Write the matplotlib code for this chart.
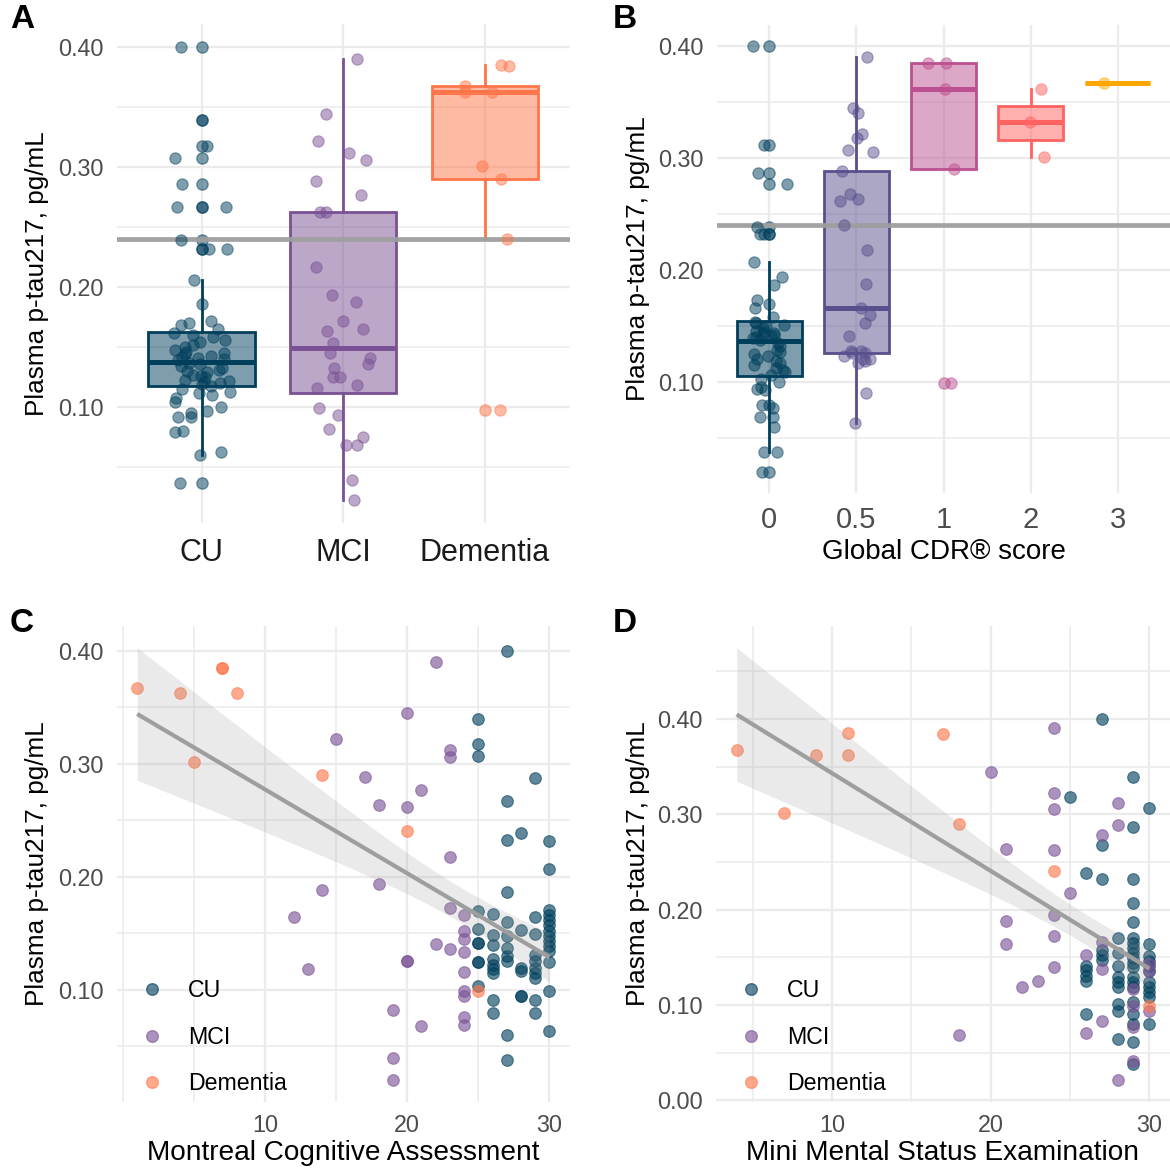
import numpy as np
import matplotlib
matplotlib.use("Agg")
import matplotlib.pyplot as plt
from matplotlib.colors import to_rgba
from matplotlib.lines import Line2D

plt.rcParams['font.family'] = ['Liberation Sans', 'DejaVu Sans']

# ---------------- data ----------------
# Panel A: plasma p-tau217 by diagnostic group
groups_a = ["CU", "MCI", "Dementia"]
ptau_cu = [0.400, 0.339, 0.3175, 0.307, 0.286, 0.267, 0.267, 0.239, 0.232, 0.232,
           0.206, 0.186, 0.172, 0.170, 0.168, 0.165,
           0.118, 0.119, 0.120, 0.121, 0.122, 0.123, 0.125, 0.126, 0.127, 0.129,
           0.130, 0.131, 0.133, 0.134, 0.136, 0.137,
           0.139, 0.140, 0.141, 0.142, 0.143, 0.144, 0.145, 0.146, 0.148, 0.150,
           0.152, 0.154, 0.156, 0.158, 0.160, 0.162,
           0.115, 0.113, 0.112, 0.110, 0.108, 0.104, 0.100, 0.097, 0.095, 0.092,
           0.092, 0.080, 0.079, 0.063, 0.060, 0.037]
ptau_mci = [0.3897, 0.3442, 0.3217, 0.3114, 0.3053, 0.2883, 0.2767, 0.2628, 0.2628,
            0.2167, 0.1933, 0.1878, 0.172, 0.165, 0.1636, 0.153, 0.145, 0.141, 0.136,
            0.133, 0.125, 0.125, 0.1183, 0.116, 0.099, 0.0933, 0.0817, 0.0753, 0.0683,
            0.0683, 0.0392, 0.0225]
ptau_dem = [0.385, 0.384, 0.367, 0.362, 0.362, 0.301, 0.290, 0.240, 0.098]

# Panel B: plasma p-tau217 by global CDR score
cdr_labels = ["0", "0.5", "1", "2", "3"]
ptau_cdr0 = [0.400, 0.312, 0.287, 0.277, 0.239, 0.232, 0.232, 0.207, 0.194, 0.187,
             0.173, 0.170, 0.166, 0.158,
             0.138, 0.139, 0.140, 0.141, 0.142, 0.143, 0.144, 0.145, 0.146, 0.148,
             0.150, 0.151, 0.153, 0.154,
             0.106, 0.109, 0.111, 0.113, 0.115, 0.117, 0.119, 0.121, 0.123, 0.125,
             0.127, 0.129, 0.132, 0.135,
             0.103, 0.100, 0.096, 0.094, 0.093, 0.080, 0.080, 0.077, 0.069, 0.069,
             0.060, 0.038, 0.038, 0.020]
ptau_cdr05 = [0.390, 0.345, 0.340, 0.322, 0.318, 0.307, 0.306, 0.289, 0.268, 0.264,
              0.262, 0.240, 0.218, 0.188, 0.166, 0.160, 0.153, 0.141, 0.128, 0.128,
              0.1262, 0.1256, 0.123, 0.121, 0.1203, 0.1185, 0.1173, 0.0905, 0.0637]
ptau_cdr1 = [0.385, 0.385, 0.362, 0.290, 0.099]
ptau_cdr2 = [0.362, 0.332, 0.301]
ptau_cdr3 = [0.367]

# Panel C: MoCA score vs p-tau217
moca_cu = [27, 25, 25, 25, 29, 27, 28, 27, 30, 30, 27, 25, 26, 27, 28, 29, 29, 30, 30, 30,
           30, 30, 30, 30, 30, 30, 25, 25, 25, 26, 26, 27, 27, 27, 27, 25, 25, 26, 26, 26,
           26, 28, 28, 29, 29, 29, 29, 29, 30, 25, 28, 28, 30, 26, 26, 29, 29, 27, 30, 27]
ptau_moca_cu = [0.400, 0.3398, 0.3177, 0.3071, 0.2873, 0.2675, 0.2386, 0.2327, 0.2321, 0.2068,
                0.1865, 0.1699, 0.167, 0.160, 0.1531, 0.164, 0.1496, 0.1708, 0.1664, 0.162,
                0.1575, 0.1522, 0.1478, 0.1434, 0.139, 0.1345, 0.154, 0.1413, 0.1413, 0.1487,
                0.1398, 0.1472, 0.137, 0.1295, 0.125, 0.1245, 0.1245, 0.1272, 0.1222, 0.1183,
                0.1148, 0.1192, 0.1162, 0.131, 0.125, 0.1192, 0.1148, 0.1104, 0.1242, 0.1035,
                0.0947, 0.0947, 0.0991, 0.0905, 0.0794, 0.0905, 0.0797, 0.0599, 0.0637, 0.0374]
moca_mci = [22, 20, 15, 23, 23, 17, 21, 18, 20, 23, 14, 18, 12, 23, 22, 23, 13, 20, 20, 19,
            21, 19, 19, 24, 24, 24, 24, 24, 24, 24, 24, 24]
ptau_moca_mci = [0.3906, 0.3449, 0.3221, 0.3124, 0.3059, 0.2888, 0.277, 0.2637, 0.2622, 0.2171,
                 0.1882, 0.1938, 0.164, 0.1723, 0.1404, 0.136, 0.1183, 0.1257, 0.1257, 0.0817,
                 0.0682, 0.0396, 0.0197, 0.1658, 0.1522, 0.1451, 0.1333, 0.1156, 0.099, 0.094,
                 0.0755, 0.069]
moca_dem = [1, 4, 7, 7, 8, 5, 14, 20, 25]
ptau_moca_dem = [0.367, 0.3626, 0.385, 0.385, 0.3626, 0.3015, 0.2903, 0.2404, 0.0985]

# Panel D: MMSE score vs p-tau217
mmse_cu = [27, 29, 25, 30, 29, 27, 26, 27, 29, 29, 29, 28, 29, 29, 29, 29, 29, 29, 29, 30,
           30, 30, 30, 30, 30, 30, 30, 30, 28, 28, 28, 28, 28, 27, 27, 27, 26, 26, 26, 26,
           29, 29, 29, 29, 29, 29, 29, 29, 28, 28, 28, 26, 30]
ptau_mmse_cu = [0.4003, 0.3394, 0.3178, 0.307, 0.2869, 0.2674, 0.2385, 0.2326, 0.2322, 0.2071,
                0.187, 0.170, 0.1706, 0.1654, 0.1602, 0.155, 0.1497, 0.1445, 0.1393, 0.1637,
                0.1515, 0.1463, 0.141, 0.1358, 0.1236, 0.1184, 0.1132, 0.1079, 0.155, 0.141,
                0.1289, 0.1236, 0.1184, 0.1574, 0.1522, 0.147, 0.141, 0.1365, 0.1306, 0.1254,
                0.1289, 0.1236, 0.1184, 0.1027, 0.0905, 0.080, 0.0609, 0.0383, 0.101, 0.094,
                0.0644, 0.0905, 0.080]
mmse_mci = [24, 20, 24, 24, 28, 28, 27, 21, 24, 25, 24, 21, 24, 21, 24, 22, 23, 27, 26, 27,
            18, 26, 27, 28, 29, 29, 29, 29, 30, 30, 30]
ptau_mmse_mci = [0.390, 0.3447, 0.322, 0.3057, 0.3117, 0.289, 0.2778, 0.2639, 0.2622, 0.2176,
                 0.194, 0.188, 0.1723, 0.1643, 0.1403, 0.119, 0.1253, 0.166, 0.1525, 0.1375,
                 0.0686, 0.0703, 0.0829, 0.0209, 0.1167, 0.0992, 0.0766, 0.0411, 0.1428, 0.1358,
                 0.094]
mmse_dem = [4, 9, 11, 11, 7, 17, 18, 24, 30]
ptau_mmse_dem = [0.3669, 0.3621, 0.3854, 0.3621, 0.3011, 0.3843, 0.290, 0.2402, 0.0992]

threshold = 0.24

# ---------------- styling ----------------
C_CU, C_MCI, C_DEM = "#003f5c", "#7a5195", "#ff764a"
CDR_COLORS = ["#003f5c", "#58508d", "#bc5090", "#ff6361", "#ffa600"]
GRID = "#ebebeb"
TICK_GREY = "#4d4d4d"
LINE_GREY = "#9e9e9e"
PT_BOX = 66      # marker area for jittered points
PT_SCAT = 70     # marker area for scatter points

W, H = 1170, 1171
fig = plt.figure(figsize=(W / 100, H / 100), dpi=100)
rng = np.random.default_rng(11)


def px_axes(x0, y0, x1, y1):
    return fig.add_axes([x0 / W, 1 - y1 / H, (x1 - x0) / W, (y1 - y0) / H])


def expand(lo, hi, mult=0.05):
    r = hi - lo
    return lo - mult * r, hi + mult * r


def base_style(ax, yticks, ylim):
    for s in ax.spines.values():
        s.set_visible(False)
    ax.set_ylim(*ylim)
    ax.set_yticks(yticks)
    ax.set_yticklabels([f"{t:.2f}" for t in yticks])
    minors = [t + 0.05 for t in np.arange(-0.1, 0.5, 0.1)]
    ax.set_yticks([m for m in minors if ylim[0] <= m <= ylim[1]], minor=True)
    ax.tick_params(which="both", length=0)
    ax.tick_params(axis="y", labelsize=16.8, labelcolor=TICK_GREY, pad=9.5)
    ax.grid(which="major", color=GRID, lw=1.6)
    ax.grid(which="minor", axis="y", color=GRID, lw=1.1)
    ax.set_axisbelow(True)
    ax.set_ylabel("Plasma p-tau217, pg/mL", fontsize=18.8, color="black")
    ax.yaxis.label.set_verticalalignment("center")


def box_with_jitter(ax, values, pos, color, alpha_pts=0.5):
    vals = np.asarray(values)
    fc = to_rgba(color, 0.5)
    ax.boxplot([vals], positions=[pos], widths=0.75, patch_artist=True,
               showcaps=False, whis=1.5, manage_ticks=False,
               boxprops=dict(facecolor=fc, edgecolor=color, linewidth=2.0),
               whiskerprops=dict(color=color, linewidth=2.0),
               medianprops=dict(color=color, linewidth=3.6, solid_capstyle="butt"),
               flierprops=dict(marker="o", markersize=np.sqrt(PT_BOX),
                               markerfacecolor=to_rgba(color, alpha_pts),
                               markeredgecolor=to_rgba(color, alpha_pts)),
               zorder=2)
    jit = rng.uniform(-0.2, 0.2, len(vals))
    ax.scatter(pos + jit, vals, s=PT_BOX, facecolor=to_rgba(color, alpha_pts),
               edgecolor=to_rgba(color, alpha_pts), linewidth=0.8, zorder=4)


def lm_band(x, y, grid):
    x = np.asarray(x, float)
    y = np.asarray(y, float)
    n = len(x)
    xm = x.mean()
    sxx = np.sum((x - xm) ** 2)
    b1 = np.sum((x - xm) * (y - y.mean())) / sxx
    b0 = y.mean() - b1 * xm
    s = np.sqrt(np.sum((y - (b0 + b1 * x)) ** 2) / (n - 2))
    se = s * np.sqrt(1 / n + (grid - xm) ** 2 / sxx)
    df = n - 2
    z = 1.959964
    t = z + (z ** 3 + z) / (4 * df) + (5 * z ** 5 + 16 * z ** 3 + 3 * z) / (96 * df ** 2)
    fit = b0 + b1 * grid
    return fit, fit - t * se, fit + t * se


# ---------------- Panel A ----------------
axA = px_axes(116.6, 24, 570, 523)
ya = ptau_cu + ptau_mci + ptau_dem
base_style(axA, [0.1, 0.2, 0.3, 0.4], expand(min(ya), max(ya)))
axA.set_xlim(-0.6, 2.6)
axA.set_xticks(range(3))
axA.set_xticklabels(groups_a)
axA.tick_params(axis="x", labelsize=22, labelcolor="#1a1a1a", pad=11)
axA.axhline(threshold, color=LINE_GREY, lw=3.4, alpha=0.95, zorder=3)
for i, (vals, col) in enumerate(zip([ptau_cu, ptau_mci, ptau_dem], [C_CU, C_MCI, C_DEM])):
    box_with_jitter(axA, vals, i, col)
axA.yaxis.set_label_coords(-0.176, 0.5)

# ---------------- Panel B ----------------
axB = px_axes(717, 25, 1170, 493)
cdr_sets = [ptau_cdr0, ptau_cdr05, ptau_cdr1, ptau_cdr2, ptau_cdr3]
yb = sum(cdr_sets, [])
base_style(axB, [0.1, 0.2, 0.3, 0.4], expand(min(yb), max(yb)))
axB.set_xlim(-0.6, 4.6)
axB.set_xticks(range(5))
axB.set_xticklabels(cdr_labels)
axB.tick_params(axis="x", labelsize=21, labelcolor=TICK_GREY, pad=9)
axB.axhline(threshold, color=LINE_GREY, lw=3.4, alpha=0.95, zorder=3)
for i, (vals, col) in enumerate(zip(cdr_sets, CDR_COLORS)):
    box_with_jitter(axB, vals, i, col)
axB.set_xlabel("Global CDR\u00ae score", fontsize=20, color="black")
axB.xaxis.set_label_coords(0.5, -(552 - 493) / (493 - 25))
axB.xaxis.label.set_verticalalignment("center")
axB.yaxis.set_label_coords(-(717 - 638) / (1170 - 717), 0.5)


# ---------------- Panels C and D ----------------
def scatter_panel(ax, xs, ys, colors, labels, xlabel, yticks, xminor, lab_y_px, ax_px):
    allx = np.concatenate([np.asarray(v, float) for v in xs])
    ally = np.concatenate([np.asarray(v, float) for v in ys])
    grid = np.linspace(allx.min(), allx.max(), 80)
    fit, lo, hi = lm_band(allx, ally, grid)
    ylo = min(ally.min(), lo.min())
    yhi = max(ally.max(), hi.max())
    base_style(ax, yticks, expand(ylo, yhi))
    xl = expand(allx.min(), allx.max())
    ax.set_xlim(*xl)
    ax.set_xticks([10, 20, 30])
    ax.set_xticks([m for m in xminor if xl[0] <= m <= xl[1]], minor=True)
    ax.grid(which="minor", axis="x", color=GRID, lw=1.1)
    ax.tick_params(axis="x", labelsize=16.8, labelcolor=TICK_GREY, pad=9)
    for xv, yv, col in zip(xs, ys, colors):
        ax.scatter(xv, yv, s=PT_SCAT, facecolor=to_rgba(col, 0.62),
                   edgecolor=to_rgba(col, 0.62), linewidth=0.8, zorder=3)
    ax.fill_between(grid, lo, hi, color="#999999", alpha=0.2, lw=0, zorder=4)
    ax.plot(grid, fit, color=LINE_GREY, lw=3.0, zorder=5, solid_capstyle="butt")
    handles = [Line2D([], [], ls="", marker="o", markersize=np.sqrt(PT_SCAT),
                      markerfacecolor=to_rgba(c, 0.62), markeredgecolor=to_rgba(c, 0.62))
               for c in colors]
    ax.legend(handles, labels, loc="lower left", bbox_to_anchor=(0.006, -0.03),
              frameon=False, fontsize=16.7, handlelength=1.0, handletextpad=1.05,
              labelspacing=1.02, borderpad=0.4)
    ax.set_xlabel(xlabel, fontsize=20.2, color="black")
    x0, y0, x1, y1 = ax_px
    ax.xaxis.set_label_coords(0.5, -(lab_y_px - y1) / (y1 - y0))
    ax.xaxis.label.set_verticalalignment("center")


axC = px_axes(116.6, 626, 570, 1102)
scatter_panel(axC, [moca_cu, moca_mci, moca_dem],
              [ptau_moca_cu, ptau_moca_mci, ptau_moca_dem],
              [C_CU, C_MCI, C_DEM], groups_a, "Montreal Cognitive Assessment",
              [0.1, 0.2, 0.3, 0.4], [0, 5, 15, 25], 1153, (116.6, 626, 570, 1102))
axC.yaxis.set_label_coords(-(116.6 - 37) / (570 - 116.6), 0.5)

axD = px_axes(716, 626, 1170, 1102)
scatter_panel(axD, [mmse_cu, mmse_mci, mmse_dem],
              [ptau_mmse_cu, ptau_mmse_mci, ptau_mmse_dem],
              [C_CU, C_MCI, C_DEM], groups_a, "Mini Mental Status Examination",
              [0.0, 0.1, 0.2, 0.3, 0.4], [0, 5, 15, 25], 1153, (716, 626, 1170, 1102))
axD.yaxis.set_label_coords(-(716 - 638) / (1170 - 716), 0.5)

# panel tags
for tag, (x, y) in zip("ABCD", [(22, 20), (625, 20), (22, 623), (625, 623)]):
    fig.text(x / W, 1 - y / H, tag, fontsize=24, fontweight="bold",
             ha="center", va="center")

fig.savefig("out.png", dpi=100, facecolor="white")
